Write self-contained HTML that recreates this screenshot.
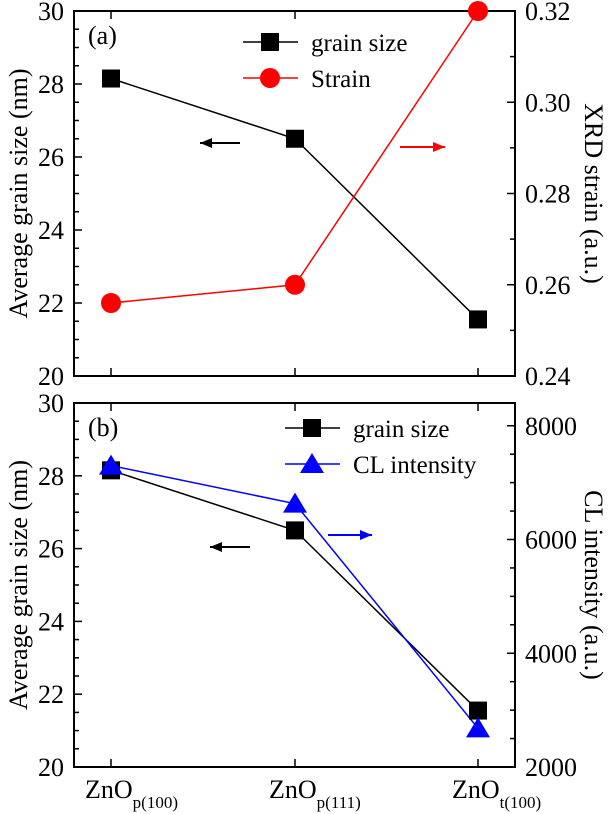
<!DOCTYPE html>
<html><head><meta charset="utf-8"><style>
body{margin:0;background:#fff}
svg{display:block}
svg text{font-family:"Liberation Serif","DejaVu Serif",serif}
</style></head><body>
<svg id="c" width="610" height="814" viewBox="0 0 610 814" xmlns="http://www.w3.org/2000/svg" font-family="Liberation Serif, DejaVu Serif, serif"></svg>
<script>
const categories=["p(100)","p(111)","t(100)"];
const grainSize=[28.15,26.5,21.55];
const strain=[0.256,0.260,0.320];
const clIntensity=[7300,6630,2680];
const leftTicks=[20,22,24,26,28,30];
const strainTicks=[0.24,0.26,0.28,0.30,0.32];
const clTicks=[2000,4000,6000,8000];

const NS="http://www.w3.org/2000/svg";
const svg=document.getElementById('c');
function el(t,a,p){const e=document.createElementNS(NS,t);for(const k in a)e.setAttribute(k,a[k]);if(t==='text')e.setAttribute('font-family','Liberation Serif, DejaVu Serif, serif');(p||svg).appendChild(e);return e;}
const X0=74,X1=515;
const xs=i=>[111,295,478][i];
function panel(top,bot,rmin,rmax,rticks,rminor,rfmt,label,rTitle,rSeries,rColor,rMarker,legend2,legY,legX,arrows,name){
  const g=el('g',{});
  
  
  const yl=v=>bot-(v-20)/10*(bot-top);
  const yr=v=>bot-(v-rmin)/(rmax-rmin)*(bot-top);
  el('rect',{x:X0,y:top,width:X1-X0,height:bot-top,fill:'none',stroke:'#000','stroke-width':2},g);
  for(let v=20;v<=30.001;v+=0.5){const y=yl(v);const maj=Math.abs(v-Math.round(v/2)*2)<1e-6;el('line',{x1:X0,x2:X0+(maj?8:5),y1:y,y2:y,stroke:'#000','stroke-width':1.5},g);}
  leftTicks.forEach(v=>{const t=el('text',{x:X0-10,y:yl(v)+9,'text-anchor':'end','font-size':26},g);t.textContent=v;});
  for(let v=rmin;v<=rmax+1e-9;v+=rminor){const y=yr(v);const maj=rticks.some(r=>Math.abs(r-v)<rminor/10);el('line',{x1:X1,x2:X1-(maj?8:5),y1:y,y2:y,stroke:'#000','stroke-width':1.5},g);}
  rticks.forEach(v=>{const t=el('text',{x:X1+10,y:yr(v)+9,'font-size':26},g);t.textContent=rfmt(v);});
  for(let i=0;i<3;i++){el('line',{x1:xs(i),x2:xs(i),y1:bot,y2:bot-8,stroke:'#000','stroke-width':1.5},g);el('line',{x1:xs(i),x2:xs(i),y1:top,y2:top+8,stroke:'#000','stroke-width':1.5},g);}
  const cy=(top+bot)/2;
  const lt=el('text',{x:18,y:cy+9,'text-anchor':'middle','font-size':26,transform:`rotate(-90 18 ${cy})`},g);lt.textContent='Average grain size (nm)';
  
  const rt=el('text',{x:594,y:cy+9,'text-anchor':'middle','font-size':26,transform:`rotate(90 594 ${cy})`},g);rt.textContent=rTitle;
  
  const pl=el('text',{x:88,y:top+33,'font-size':26},g);pl.textContent=label;
  
  el('polyline',{points:grainSize.map((v,i)=>xs(i)+','+yl(v)).join(' '),fill:'none',stroke:'#000','stroke-width':1.5},g);
  el('polyline',{points:rSeries.map((v,i)=>xs(i)+','+yr(v)).join(' '),fill:'none',stroke:rColor,'stroke-width':1.5},g);
  grainSize.forEach((v,i)=>{const m=el('rect',{x:xs(i)-9,y:yl(v)-9,width:18,height:18,fill:'#000'},g);});
  rSeries.forEach((v,i)=>{const m=rMarker(xs(i),yr(v),g);});
  el('line',{x1:legX,x2:legX+55,y1:legY,y2:legY,stroke:'#000','stroke-width':1.5},g);
  el('rect',{x:legX+18,y:legY-9,width:18,height:18,fill:'#000'},g);
  let t=el('text',{x:legX+68,y:legY+9,'font-size':25},g);t.textContent='grain size';
  
  el('line',{x1:legX,x2:legX+55,y1:legY+36,y2:legY+36,stroke:rColor,'stroke-width':1.5},g);
  rMarker(legX+27,legY+36,g);
  t=el('text',{x:legX+68,y:legY+45,'font-size':25},g);t.textContent=legend2;
  
  arrows.forEach(a=>{el('line',{x1:a[0],x2:a[1],y1:a[2],y2:a[2],stroke:a[3],'stroke-width':2},g);const d=a[1]>a[0]?1:-1;el('polygon',{points:`${a[1]},${a[2]} ${a[1]-d*12},${a[2]-5} ${a[1]-d*12},${a[2]+5}`,fill:a[3]},g);});
}
const circ=(x,y,g)=>el('circle',{cx:x,cy:y,r:10,fill:'#f00'},g);
const tri=(x,y,g)=>el('polygon',{points:`${x},${y-11} ${x-12},${y+9} ${x+12},${y+9}`,fill:'#00f'},g);
panel(11,376,0.24,0.32,strainTicks,0.01,v=>v.toFixed(2),'(a)','XRD strain (a.u.)',strain,'#f00',circ,'Strain',42,243,[[240,200,143,'#000'],[400,445,147,'#f00']],'panel-a');
panel(403,767,2000,8400,clTicks,500,v=>v,'(b)','CL intensity (a.u.)',clIntensity,'#00f',tri,'CL intensity',428,285,[[250,210,547,'#000'],[328,372,535,'#00f']],'panel-b');
categories.forEach((c,i)=>{const t=el('text',{x:xs(i)-26,y:798,'font-size':26});t.textContent='ZnO';const s=el('tspan',{dy:10,'font-size':17},t);s.textContent=c;});
</script>
</body></html>
